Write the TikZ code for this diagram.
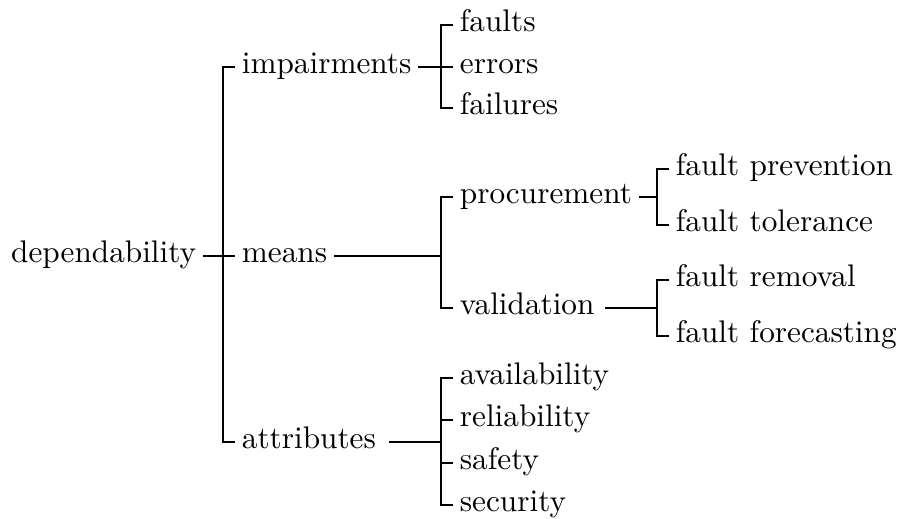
\documentclass[tikz,border=0pt]{standalone}
\usepackage{tikz}
\usetikzlibrary{calc}
\usetikzlibrary{positioning}

\begin{document}
\begin{tikzpicture}[x=0.32pt,y=-0.32pt]

		\tikzset{line/.style={draw,line width=0.8pt}}
		\tikzset{term/.style={anchor=west,inner sep=2pt,text height=1.6ex,text depth=0.6ex}}

		\useasboundingbox (0,0) rectangle (907,519);

		% bars of the brackets
		\coordinate (b0) at (223,0);
		\coordinate (b1) at (441,0);
		\coordinate (b2) at (441,0);
		\coordinate (b3) at (441,0);
		\coordinate (b4) at (657,0);
		\coordinate (b5) at (657,0);

		\node[term, anchor=east] (dep) at (203,256) {dependability};

		\node[term] (imp) at (235,67) {impairments};
		\node[term] (means) at (235,256) {means};
		\node[term] (attr) at (235,442) {attributes};

		\node[term] (faults) at (453,25) {faults};
		\node[term] (errors) at (453,67) {errors};
		\node[term] (failures) at (453,108) {failures};

		\node[term] (proc) at (453,197) {procurement};
		\node[term] (valid) at (453,308) {validation};

		\node[term] (prev) at (669,169) {fault prevention};
		\node[term] (toler) at (669,225) {fault tolerance};
		\node[term] (remov) at (669,280) {fault removal};
		\node[term] (forec) at (669,336) {fault forecasting};

		\node[term] (avail) at (453,378) {availability};
		\node[term] (relia) at (453,420) {reliability};
		\node[term] (safety) at (453,463) {safety};
		\node[term] (secur) at (453,505) {security};

		% dependability
		\path[line] (dep.east) to (dep.east -| b0);
		\path[line] (imp.west) -- (imp.west -| b0) -- (attr.west -| b0) -- (attr.west);
		\path[line] (means.west) to (means.west -| b0);

		% impairments
		\path[line] (imp.east) to (imp.east -| b1);
		\path[line] (faults.west) -- (faults.west -| b1) -- (failures.west -| b1) -- (failures.west);
		\path[line] (errors.west) to (errors.west -| b1);

		% means
		\path[line] (means.east) to (means.east -| b2);
		\path[line] (proc.west) -- (proc.west -| b2) -- (valid.west -| b2) -- (valid.west);

		\path[line] (proc.east) to (proc.east -| b4);
		\path[line] (prev.west) -- (prev.west -| b4) -- (toler.west -| b4) -- (toler.west);

		\path[line] ([xshift=1.3pt]valid.east) to (valid.east -| b5);
		\path[line] (remov.west) -- (remov.west -| b5) -- (forec.west -| b5) -- (forec.west);

		% attributes
		\path[line] ([xshift=2pt]attr.east) to (attr.east -| b3);
		\path[line] (avail.west) -- (avail.west -| b3) -- (secur.west -| b3) -- (secur.west);
		\path[line] (relia.west) to (relia.west -| b3);
		\path[line] (safety.west) to (safety.west -| b3);

	\end{tikzpicture}
\end{document}
